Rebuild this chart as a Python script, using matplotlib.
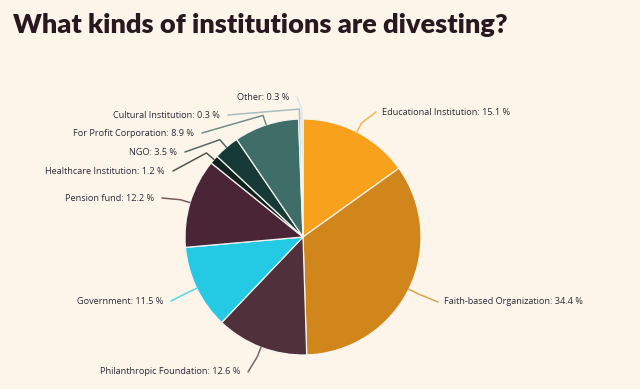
import numpy as np
import matplotlib.pyplot as plt

# data
labels = ["Educational Institution", "Faith-based Organization", "Philanthropic Foundation",
          "Government", "Pension fund", "Healthcare Institution", "NGO",
          "For Profit Corporation", "Cultural Institution", "Other"]
shares = [15.1, 34.4, 12.6, 11.5, 12.2, 1.2, 3.5, 8.9, 0.3, 0.3]
colors = ["#F7A11D", "#D0861B", "#4F303B", "#24CAE4", "#4A2535",
          "#10221E", "#163B36", "#3F6D68", "#8FA9AE", "#CFE2E6"]

# label layout in pixels (anchor x, y, alignment)
label_pos = [(382, 112, "left"), (444, 302, "left"), (240, 372, "right"),
             (163, 301, "right"), (154, 198, "right"), (165, 171, "right"),
             (177, 152, "right"), (194, 133, "right"), (220, 115, "right"),
             (289, 97, "right")]

W, H = 640, 389
bg = "#FEF5EA"
fig = plt.figure(figsize=(W / 100, H / 100), dpi=100, facecolor=bg)
ax = fig.add_axes([0, 0, 1, 1])
ax.set_facecolor(bg)

cx, cy, r = 303, H - 237, 118
wedges, _ = ax.pie(shares, colors=colors, startangle=90, counterclock=False,
                   center=(cx, cy), radius=r, frame=True,
                   wedgeprops=dict(edgecolor="#F4F4F0", linewidth=0.9))
ax.set_xlim(0, W)
ax.set_ylim(0, H)
ax.set_aspect("equal")
ax.axis("off")

for w, name, val, (lx, ly, ha), col in zip(wedges, labels, shares, label_pos, colors):
    ang = np.deg2rad((w.theta1 + w.theta2) / 2)
    p0 = (cx + r * np.cos(ang), cy + r * np.sin(ang))
    p1 = (cx + (r + 10) * np.cos(ang), cy + (r + 10) * np.sin(ang))
    ty = H - ly
    gap = 8 if ha == "right" else -6
    p2 = (lx + gap, ty)
    ax.plot([p0[0], p1[0], p2[0]], [p0[1], p1[1], p2[1]], color=col, lw=1.1,
            alpha=0.75, solid_capstyle="round", solid_joinstyle="round")
    ax.text(lx, ty, f"{name}: {val} %", ha=ha, va="center", fontsize=6.6,
            family="Open Sans", color="#2B2B38")

fig.text(13 / W, 1 - 25 / H, "What kinds of institutions are divesting?",
         ha="left", va="center", fontsize=19.5, fontweight="heavy",
         family="Lato", color="#2A1820")

fig.savefig("out.png", dpi=100, facecolor=bg)
